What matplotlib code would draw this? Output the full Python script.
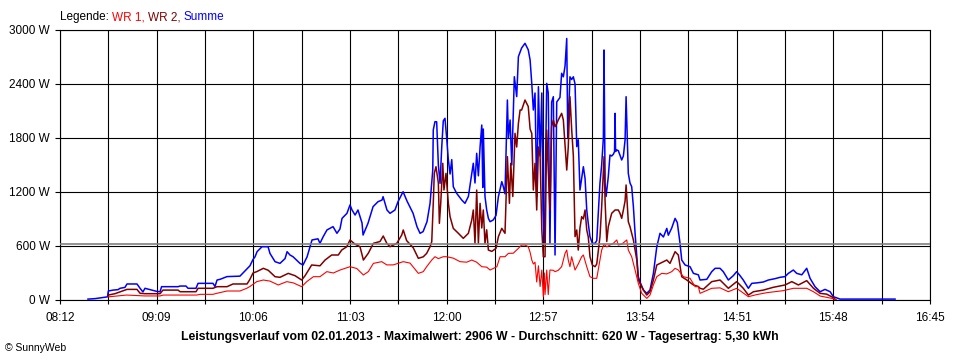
import matplotlib
matplotlib.use("Agg")
import matplotlib.pyplot as plt

plt.rcParams['font.family'] = ['Liberation Sans', 'DejaVu Sans']

# x axis labels (every second grid line), y ticks, daily average
x_labels = ["08:12", "09:09", "10:06", "11:03", "12:00", "12:57", "13:54", "14:51", "15:48", "16:45"]
y_ticks = [0, 600, 1200, 1800, 2400, 3000]
avg_w = 620

# Summe (blue): time in minutes after midnight, power in W
summe_t = [508.5, 512.6, 516.2, 520.0, 520.5, 523.3, 526.2, 527.4, 530.3, 531.5, 537.4, 539.2, 540.9, 542.1,
           545.1, 549.2, 551.0, 551.9, 561.6, 562.8, 566.3, 567.5, 572.2, 573.4, 582.2, 583.4, 584.6, 586.4,
           590.5, 598.1, 599.9, 604.0, 605.8, 607.0, 608.2, 611.1, 614.7, 615.8, 618.8, 621.7, 624.7, 625.9,
           627.6, 629.4, 633.5, 635.3, 637.7, 640.6, 644.1, 645.3, 647.1, 649.4, 653.0, 655.3, 657.1, 658.3,
           661.2, 663.0, 664.2, 666.0, 667.7, 670.1, 670.7, 673.6, 676.6, 679.5, 681.9, 682.5, 684.8, 686.6,
           689.5, 691.3, 694.3, 696.6, 700.2, 702.5, 704.3, 706.1, 708.4, 710.2, 711.8, 712.1, 713.1, 714.1,
           715.1, 716.1, 717.1, 718.0, 719.0, 720.0, 721.0, 722.0, 723.0, 723.9, 725.9, 728.9, 730.8, 732.8,
           734.8, 735.7, 736.7, 737.7, 738.7, 739.7, 740.7, 741.3, 741.6, 742.6, 743.6, 744.6, 745.6, 747.5,
           749.1, 750.5, 752.5, 753.4, 754.4, 755.8, 756.4, 757.4, 758.4, 759.9, 761.3, 762.3, 764.2, 766.2,
           768.1, 769.2, 770.2, 771.1, 772.1, 773.1, 774.1, 775.1, 776.1, 776.8, 777.6, 779.0, 779.9, 780.9,
           781.9, 782.9, 783.9, 784.9, 786.8, 787.8, 788.8, 789.8, 790.8, 791.4, 792.7, 793.7, 794.7, 795.7,
           796.7, 797.6, 798.6, 800.6, 801.6, 802.6, 803.5, 804.5, 805.9, 807.5, 808.5, 810.4, 811.4, 812.4,
           812.8, 813.4, 814.0, 815.3, 816.3, 817.3, 818.3, 819.0, 819.3, 819.6, 820.3, 821.2, 823.2, 824.2,
           825.2, 825.8, 826.5, 827.1, 828.1, 829.1, 830.1, 831.1, 832.1, 833.0, 834.0, 836.0, 838.0, 839.9,
           841.9, 843.9, 845.8, 847.8, 849.8, 850.7, 852.7, 854.7, 856.0, 857.6, 858.6, 860.6, 863.5, 865.5,
           868.4, 869.4, 873.4, 876.3, 878.3, 881.2, 883.1, 886.1, 889.0, 891.0, 893.0, 894.9, 897.9, 899.9,
           902.8, 906.7, 909.7, 913.6, 916.6, 919.5, 921.5, 924.4, 926.4, 929.4, 932.3, 934.3, 937.2, 940.2,
           943.1, 946.1, 948.0, 952.0, 984.4]
summe_w = [10, 15, 25, 35, 100, 110, 115, 130, 140, 178, 178, 130, 90, 130,
           115, 95, 92, 148, 148, 155, 155, 130, 130, 185, 185, 150, 222, 230,
           260, 265, 300, 380, 450, 480, 537, 592, 592, 518, 426, 407, 460, 537,
           500, 481, 407, 389, 480, 667, 680, 630, 700, 778, 815, 741, 790, 907,
           963, 1056, 1000, 944, 1000, 855, 722, 852, 1037, 1092, 1111, 1148, 1000, 963,
           1000, 1092, 1203, 1100, 963, 815, 741, 760, 870, 1074, 1444, 1889, 1981, 1980,
           1500, 1296, 1700, 1990, 2019, 1800, 1556, 1400, 1560, 1259, 1185, 1111, 1074, 1150,
           1407, 1519, 1300, 1630, 1380, 1700, 1944, 1250, 1900, 1150, 1000, 907, 870, 890,
           940, 1148, 1315, 1260, 1180, 2222, 1800, 2000, 1500, 2481, 2260, 2704, 2800, 2852,
           2780, 2667, 2400, 2111, 2300, 1150, 2370, 1600, 2300, 1000, 630, 2407, 2300, 630,
           2200, 2259, 500, 2200, 2250, 2519, 2480, 2600, 2906, 1800, 2480, 2450, 2480, 2400,
           1704, 1780, 1222, 1481, 1350, 1000, 850, 704, 630, 630, 660, 1300, 1500, 1800,
           2778, 1300, 1150, 1370, 1611, 1600, 1620, 1650, 2074, 1650, 1667, 1660, 1556, 1600,
           1778, 2259, 1780, 1407, 1300, 1259, 1037, 741, 481, 259, 200, 111, 74, 111,
           296, 592, 741, 700, 796, 720, 800, 907, 860, 630, 444, 389, 370, 296,
           280, 222, 230, 315, 352, 352, 315, 222, 270, 315, 270, 222, 130, 185,
           190, 200, 222, 237, 252, 260, 296, 333, 296, 280, 352, 240, 148, 92,
           118, 92, 37, 10, 10]

# WR 2 (dark red)
wr2_t = [520.5, 524.4, 527.4, 531.5, 537.4, 539.2, 542.1, 551.0, 552.7, 561.6, 562.8, 572.2, 573.4, 582.2,
         584.6, 590.5, 594.0, 602.3, 604.0, 605.8, 608.0, 611.9, 614.8, 618.8, 621.7, 626.6, 630.6, 634.5,
         636.5, 640.4, 645.3, 648.3, 652.2, 656.1, 658.1, 661.1, 663.0, 666.0, 668.9, 670.9, 673.8, 676.8,
         680.7, 682.6, 684.7, 686.6, 690.6, 693.5, 694.4, 696.4, 700.3, 703.3, 706.2, 708.2, 710.2, 711.2,
         712.1, 712.7, 713.7, 715.1, 715.7, 716.5, 717.7, 718.4, 719.6, 721.0, 722.0, 723.9, 726.9, 729.8,
         732.8, 734.8, 735.7, 736.7, 737.7, 738.7, 739.7, 740.7, 741.6, 742.6, 743.6, 744.6, 746.6, 749.1,
         750.5, 752.5, 754.4, 755.8, 757.0, 757.8, 759.0, 760.3, 761.3, 762.3, 763.3, 764.2, 766.2, 768.1,
         769.2, 770.2, 771.1, 772.1, 773.1, 774.1, 775.1, 776.1, 777.0, 778.0, 779.0, 779.9, 780.9, 781.9,
         782.9, 783.9, 784.9, 785.8, 787.8, 788.8, 790.8, 791.7, 792.7, 793.7, 794.7, 795.7, 796.7, 797.6,
         798.6, 799.6, 800.6, 801.6, 802.6, 803.5, 804.5, 805.9, 807.5, 808.5, 810.4, 811.4, 812.8, 813.4,
         814.4, 815.3, 817.3, 819.3, 821.2, 822.2, 823.2, 824.2, 825.2, 825.8, 827.1, 828.1, 830.1, 832.1,
         833.0, 836.0, 838.0, 839.9, 841.9, 843.9, 845.8, 849.8, 851.7, 854.7, 856.6, 858.6, 861.6, 865.5,
         868.4, 869.4, 871.4, 876.3, 881.2, 886.1, 891.0, 894.9, 897.9, 900.9, 906.7, 912.6, 919.5, 923.5,
         927.4, 932.3, 936.3, 940.2, 944.1, 948.0, 949.6]
wr2_w = [55, 70, 90, 118, 118, 75, 70, 70, 110, 110, 92, 92, 130, 130,
         148, 148, 178, 178, 230, 300, 315, 352, 330, 259, 252, 296, 270, 222,
         270, 389, 380, 444, 500, 500, 555, 592, 667, 620, 592, 444, 520, 630,
         650, 711, 630, 592, 630, 722, 778, 660, 580, 463, 480, 518, 592, 648,
         1074, 1407, 1481, 1300, 852, 1074, 1519, 1222, 1407, 1074, 926, 796, 741, 685,
         741, 889, 1000, 630, 1222, 630, 1074, 800, 1000, 630, 780, 555, 540, 574,
         704, 796, 741, 1593, 1074, 1519, 1150, 1852, 1700, 1963, 2111, 2111, 2222, 2150,
         1900, 1850, 1222, 1519, 1000, 1700, 1600, 778, 481, 481, 1889, 1450, 1000, 1926,
         2000, 1926, 1960, 2000, 2074, 2000, 1444, 1700, 2259, 1900, 1600, 704, 778, 555,
         800, 926, 900, 1000, 778, 700, 481, 389, 370, 400, 704, 1037, 1593, 1100,
         650, 815, 963, 1000, 1000, 963, 907, 1000, 1100, 1278, 870, 815, 667, 444,
         222, 111, 55, 92, 222, 389, 407, 444, 407, 537, 500, 259, 222, 167,
         150, 130, 120, 204, 222, 130, 204, 130, 55, 92, 110, 141, 167, 204,
         167, 215, 130, 74, 65, 26, 0]

# WR 1 (red)
wr1_t = [520.5, 531.3, 542.1, 551.0, 552.9, 572.6, 574.6, 582.2, 584.6, 590.5, 598.1, 602.1, 604.0, 608.0,
         611.9, 615.8, 620.7, 625.7, 629.6, 634.5, 637.5, 641.4, 645.3, 649.3, 653.2, 657.1, 663.0, 667.0,
         670.9, 673.8, 676.8, 681.7, 684.7, 688.5, 694.4, 698.4, 703.3, 706.2, 708.2, 711.2, 713.1, 715.1,
         718.0, 720.0, 723.9, 727.9, 731.8, 734.8, 737.7, 740.7, 743.6, 745.6, 747.5, 749.6, 751.5, 754.4,
         756.4, 759.3, 762.3, 764.2, 766.2, 768.1, 769.2, 770.2, 771.1, 772.1, 773.1, 774.1, 775.1, 776.1,
         777.0, 777.6, 778.0, 779.0, 779.9, 780.9, 782.9, 783.9, 785.8, 787.8, 789.8, 790.8, 791.7, 792.7,
         793.7, 795.7, 797.6, 799.6, 800.6, 802.6, 804.5, 806.5, 808.5, 810.4, 811.4, 812.8, 814.4, 816.3,
         818.3, 820.3, 821.2, 823.2, 826.2, 827.1, 829.1, 831.1, 833.0, 835.0, 838.0, 839.9, 841.9, 843.9,
         846.8, 849.8, 852.7, 854.7, 856.6, 859.6, 863.5, 866.5, 868.4, 869.4, 876.3, 881.2, 886.1, 891.0,
         897.9, 902.8, 908.7, 918.5, 924.4, 932.3, 936.3, 940.2, 948.0, 949.6]
wr1_w = [35, 55, 45, 45, 55, 55, 63, 63, 75, 100, 100, 130, 150, 204,
         222, 210, 167, 204, 190, 148, 204, 259, 259, 315, 300, 333, 370, 350,
         278, 315, 407, 426, 390, 390, 426, 410, 296, 315, 370, 444, 481, 460,
         481, 481, 465, 426, 420, 444, 420, 370, 365, 333, 350, 370, 481, 481,
         518, 520, 574, 611, 611, 592, 530, 444, 400, 420, 200, 380, 150, 333,
         37, 300, 60, 333, 60, 333, 330, 315, 330, 370, 518, 555, 444, 370,
         480, 333, 400, 481, 500, 370, 259, 241, 241, 444, 555, 620, 590, 611,
         630, 667, 611, 620, 667, 555, 481, 333, 185, 74, 18, 55, 167, 259,
         296, 290, 315, 352, 333, 259, 241, 148, 148, 74, 130, 135, 92, 130,
         37, 60, 81, 104, 130, 130, 92, 44, 15, 0]


def to_min(s):
    h, m = s.split(":")
    return int(h) * 60 + int(m)


major = [to_min(s) for s in x_labels]
minor = [(a + b) / 2 for a, b in zip(major[:-1], major[1:])]

fig = plt.figure(figsize=(9.6, 3.6), dpi=100)
ax = fig.add_axes([60 / 960, 60 / 360, 870 / 960, 270 / 360])

ax.plot(summe_t, summe_w, color='#0000ff', lw=1.1, zorder=3)
ax.plot(wr2_t, wr2_w, color='#800000', lw=1.1, zorder=4)
ax.plot(wr1_t, wr1_w, color='#ff0000', lw=0.8, zorder=5)
ax.axhline(avg_w, color='#808080', lw=1.2, zorder=6)

ax.set_xlim(major[0], major[-1])
ax.set_ylim(0, 3000)
ax.set_xticks(major)
ax.set_xticklabels(x_labels)
ax.set_xticks(minor, minor=True)
ax.set_yticks(y_ticks)
ax.set_yticklabels(["%d W" % v for v in y_ticks])

ax.grid(True, which='both', axis='x', color='black', lw=0.8)
ax.grid(True, which='major', axis='y', color='black', lw=0.8)
ax.set_axisbelow(True)
for sp in ax.spines.values():
    sp.set_color('black')
    sp.set_linewidth(0.8)

ax.tick_params(axis='x', which='both', direction='out', length=3, width=0.8, pad=5.5, labelsize=8.5)
ax.tick_params(axis='y', direction='out', length=3.6, width=0.8, pad=3.5, labelsize=8.5)

# legend line at the top
t0 = fig.text(60 / 960, 1 - 17 / 360, "Legende: ", fontsize=8.5, color='black', va='center')
t1 = ax.annotate("WR 1, ", xy=(1, 0), xycoords=t0, va='bottom', fontsize=8.5, color='#ff0000')
t2 = ax.annotate("WR 2, ", xy=(1, 0), xycoords=t1, va='bottom', fontsize=8.5, color='#800000')
ax.annotate("Summe", xy=(1, 0), xycoords=t2, va='bottom', fontsize=8.5, color='#0000ff')

fig.text(480 / 960, 1 - 337 / 360,
         "Leistungsverlauf vom 02.01.2013 - Maximalwert: 2906 W - Durchschnitt: 620 W - Tagesertrag: 5,30 kWh",
         ha='center', va='center', fontsize=8.8, fontweight='bold')
fig.text(5 / 960, 1 - 348 / 360, "\u00a9 SunnyWeb", ha='left', va='center', fontsize=7.5)

fig.savefig("out.png", dpi=100)
